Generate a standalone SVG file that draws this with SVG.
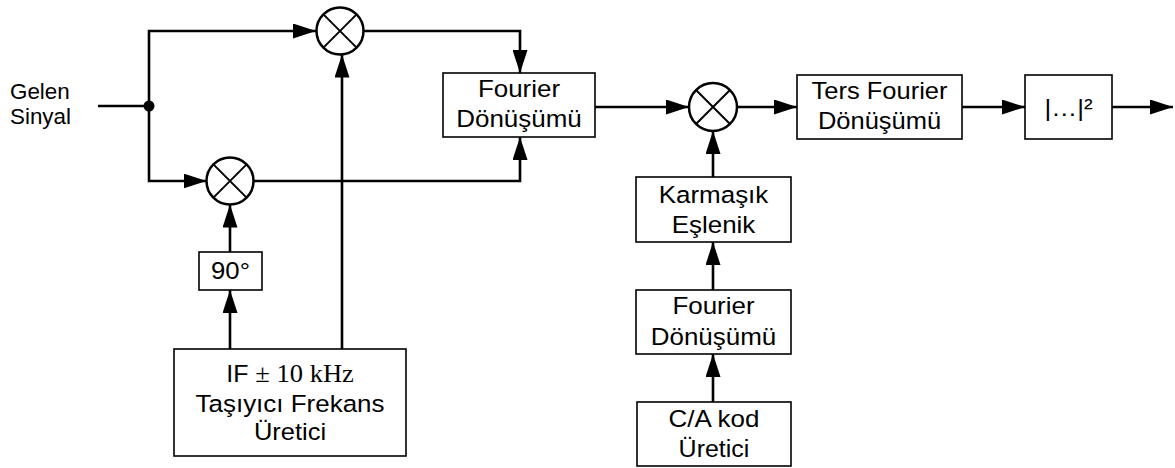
<svg xmlns="http://www.w3.org/2000/svg" width="1175" height="468" viewBox="0 0 1175 468">
<style>
.box{fill:#fff;stroke:#000;stroke-width:1.6}
.mix{fill:#fff;stroke:#000;stroke-width:2.5}
.x{stroke:#000;stroke-width:2}
.w{fill:none;stroke:#000;stroke-width:2.6}
text{font-family:"Liberation Sans",Arial,sans-serif;font-size:24.5px;fill:#000}
.lbl{font-size:22.4px}
.c{text-anchor:middle}
.tm{font-family:"Liberation Serif","Times New Roman",serif;font-size:26px}
</style>
<defs>
<marker id="ah" markerUnits="userSpaceOnUse" markerWidth="23" markerHeight="15" refX="23" refY="7.5" orient="auto">
<path d="M0,0 L23,7.5 L0,15 z" fill="#000"/>
</marker>
</defs>
<g id="connectors">
<path class="w" d="M98,106 H149"/>
<path class="w" d="M149,106 V31 H316" marker-end="url(#ah)"/>
<path class="w" d="M149,106 V181 H206.5" marker-end="url(#ah)"/>
<path class="w" d="M363.5,31 H520 V73" marker-end="url(#ah)"/>
<path class="w" d="M253.5,181 H520 V137" marker-end="url(#ah)"/>
<path class="w" d="M342,349 V54.5" marker-end="url(#ah)"/>
<path class="w" d="M230,252 V204.5" marker-end="url(#ah)"/>
<path class="w" d="M230,349 V290" marker-end="url(#ah)"/>
<path class="w" d="M595,107 H689" marker-end="url(#ah)"/>
<path class="w" d="M737,107 H797" marker-end="url(#ah)"/>
<path class="w" d="M962,107 H1025" marker-end="url(#ah)"/>
<path class="w" d="M1112,107 H1173" marker-end="url(#ah)"/>
<path class="w" d="M713,177 V131" marker-end="url(#ah)"/>
<path class="w" d="M713,290 V242" marker-end="url(#ah)"/>
<path class="w" d="M713,402 V354" marker-end="url(#ah)"/>
<circle cx="149" cy="106" r="5.5" fill="#000"/>
</g>
<g id="input-label">
<text class="lbl" x="10" y="98.5">Gelen</text>
<text class="lbl" x="10" y="124">Sinyal</text>
</g>
<g id="mixer1">
<circle class="mix" cx="340" cy="31" r="23.5"/>
<path class="x" d="M323.4,14.4 L356.6,47.6 M356.6,14.4 L323.4,47.6"/>
</g>
<g id="mixer2">
<circle class="mix" cx="230" cy="181" r="23.5"/>
<path class="x" d="M213.4,164.4 L246.6,197.6 M246.6,164.4 L213.4,197.6"/>
</g>
<g id="mixer3">
<circle class="mix" cx="713" cy="107" r="24"/>
<path class="x" d="M696,90 L730,124 M730,90 L696,124"/>
</g>
<g id="fourier1">
<rect class="box" x="443" y="73" width="152" height="64"/>
<text class="c" transform="translate(519,96.7) scale(1.06,1)">Fourier</text>
<text class="c" transform="translate(519,126.5) scale(1.06,1)">Dönüşümü</text>
</g>
<g id="ters-fourier">
<rect class="box" x="797" y="75" width="165" height="64"/>
<text class="c" transform="translate(879.5,98.5) scale(1.04,1)">Ters Fourier</text>
<text class="c" transform="translate(879.5,128.5) scale(1.04,1)">Dönüşümü</text>
</g>
<g id="abs-square">
<rect class="box" x="1025" y="75" width="87" height="64"/>
<text class="c" transform="translate(1068.5,116) scale(1.06,1)">|…|²</text>
</g>
<g id="karmasik">
<rect class="box" x="636" y="177" width="155" height="65"/>
<text class="c" transform="translate(713.5,202.5) scale(1.06,1)">Karmaşık</text>
<text class="c" transform="translate(713.5,233) scale(1.06,1)">Eşlenik</text>
</g>
<g id="fourier2">
<rect class="box" x="636" y="290" width="155" height="64"/>
<text class="c" transform="translate(713.5,314) scale(1.06,1)">Fourier</text>
<text class="c" transform="translate(713.5,345) scale(1.06,1)">Dönüşümü</text>
</g>
<g id="ca-kod">
<rect class="box" x="637" y="402" width="154" height="64"/>
<text class="c" transform="translate(714,426.5) scale(1.06,1)">C/A kod</text>
<text class="c" transform="translate(714,456.5) scale(1.02,1)">Üretici</text>
</g>
<g id="phase90">
<rect class="box" x="199" y="252" width="63" height="38"/>
<text class="c" transform="translate(230.5,279) scale(1.05,1)">90°</text>
</g>
<g id="carrier">
<rect class="box" x="174" y="349" width="232" height="107"/>
<text class="c" transform="translate(290,382) scale(1.02,1)">IF <tspan class="tm">± 10 kHz</tspan></text>
<text class="c" transform="translate(290,411.5) scale(1.06,1)">Taşıyıcı Frekans</text>
<text class="c" transform="translate(290,440) scale(1.04,1)">Üretici</text>
</g>
</svg>
